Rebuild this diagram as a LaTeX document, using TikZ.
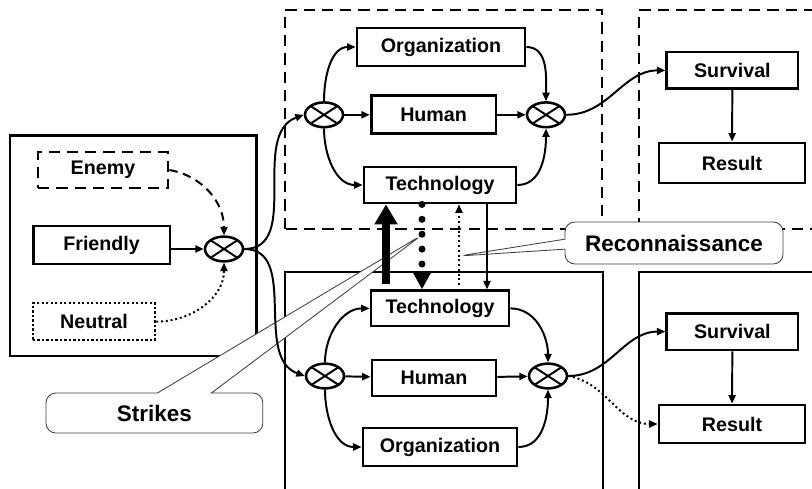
\documentclass[tikz,border=0pt]{standalone}
\usepackage{fontspec}
\setmainfont{Liberation Sans}
\usetikzlibrary{arrows.meta,shapes.geometric,shapes.callouts}

\tikzset{
  box/.style={draw,line width=2pt,fill=white,minimum height=0.92cm,inner sep=2pt,
    font=\bfseries\fontsize{14}{16}\selectfont},
  dashbox/.style={box,dash pattern=on 8pt off 5pt},
  dotbox/.style={box,line width=1.8pt,dash pattern=on 1.6pt off 1.6pt},
  mix/.style={ellipse,draw,line width=1.8pt,fill=white,minimum width=0.95cm,minimum height=0.62cm,inner sep=0pt,
    path picture={\draw[line width=1.4pt]
      (path picture bounding box.north west) -- (path picture bounding box.south east)
      (path picture bounding box.south west) -- (path picture bounding box.north east);}},
  conn/.style={line width=1.4pt,-{Triangle[length=6pt,width=5pt]}},
  area/.style={line width=2pt},
  callbox/.style={rectangle callout,draw=black!75,line width=0.6pt,fill=white,rounded corners=7pt,
    font=\bfseries\fontsize{16}{18}\selectfont}
}

\begin{document}
\begin{tikzpicture}
    % Own side (top) and opponent side (bottom), each with its survival and result.
    \clip (0,0) rectangle (20.3,12.2);
    \fill[white] (0,0) rectangle (20.3,12.2);

    \draw[area] (0.25,3.3) rectangle (6.42,8.82);
    \draw[area,dash pattern=on 8pt off 5pt] (7.125,6.475) rectangle (15.05,11.95);
    \draw[area,dash pattern=on 8pt off 5pt] (21,6.475) -- (15.975,6.475) -- (15.975,11.95) -- (21,11.95);
    \draw[area] (7.125,-1) rectangle (15.075,5.4);
    \draw[area] (21,5.4) -- (15.975,5.4) -- (15.975,-1);

    \coordinate (strikeTip) at (10.55,6.325);
    \coordinate (reconTip) at (11.475,5.8);
    \node[callbox,callout absolute pointer={(strikeTip)},callout pointer width=1.35cm,
      minimum width=5.42cm,minimum height=1cm] (strikes) at (3.86,1.875) {Strikes};
    \node[callbox,callout absolute pointer={(reconTip)},callout pointer width=0.25cm,
      minimum width=5.45cm,minimum height=1.05cm] (recon) at (16.85,6.125) {Reconnaissance};

    \node[dashbox,minimum width=3.25cm,minimum height=0.9cm] (enemy) at (2.575,7.95) {Enemy};
    \node[box,minimum width=3.42cm,minimum height=0.95cm] (friendly) at (2.54,6.075) {Friendly};
    \node[dotbox,minimum width=3.05cm] (neutral) at (2.35,4.16) {Neutral};
    \node[mix] (mixL) at (5.6,5.975) {};

    \node[mix] (mixTL) at (8.1,9.33) {};
    \node[mix] (mixTR) at (13.65,9.33) {};
    \node[box,minimum width=4.2cm,minimum height=0.95cm] (orgT) at (11.025,11.025) {Organization};
    \node[box,minimum width=3.12cm,minimum height=0.95cm] (humT) at (10.84,9.33) {Human};
    \node[box,minimum width=3.8cm,minimum height=0.9cm] (techT) at (11,7.575) {Technology};

    \node[box,minimum width=3.45cm,minimum height=0.88cm] (techB) at (11,4.49) {Technology};
    \node[box,minimum width=3.1cm,minimum height=0.9cm] (humB) at (10.85,2.75) {Human};
    \node[box,minimum width=3.85cm,minimum height=0.95cm] (orgB) at (11,1.025) {Organization};
    \node[mix] (mixBL) at (8.125,2.8) {};
    \node[mix] (mixBR) at (13.7,2.8) {};

    \node[box,minimum width=3.28cm] (survT) at (18.31,10.44) {Survival};
    \node[box,minimum width=3.65cm,minimum height=1cm] (resT) at (18.3,8.125) {Result};
    \node[box,minimum width=3.28cm] (survB) at (18.31,3.91) {Survival};
    \node[box,minimum width=3.65cm,minimum height=0.95cm] (resB) at (18.3,1.6) {Result};

    \draw[conn,dash pattern=on 6pt off 4pt] (enemy.east) to[out=-10,in=90] (mixL.north);
    \draw[conn] (friendly.east |- mixL) -- (mixL);
    \draw[conn,dotted] (neutral.east) to[out=0,in=-90] (mixL.south);
    \draw[conn] (mixL.east) to[out=0,in=200] (mixTL.west);
    \draw[conn] (mixL.east) to[out=0,in=160] (mixBL.west);

    \draw[conn] (mixTL.north) to[out=90,in=180] (orgT.west);
    \draw[conn] (mixTL) -- (humT);
    \draw[conn] (mixTL.south) to[out=-90,in=180] (techT.west);
    \draw[conn] (orgT.east) to[out=0,in=90] (mixTR.north);
    \draw[conn] (humT) -- (mixTR);
    \draw[conn] (techT.east) to[out=0,in=-90] (mixTR.south);
    \draw[conn] (mixTR.east) to[out=0,in=180] (survT.west);
    \draw[conn] (survT) -- (resT);

    \draw[conn] (mixBL.north) to[out=90,in=180] (techB.west);
    \draw[conn] (mixBL) -- (humB);
    \draw[conn] (mixBL.south) to[out=-90,in=180] (orgB.west);
    \draw[conn] (techB.east) to[out=0,in=90] (mixBR.north);
    \draw[conn] (humB) -- (mixBR);
    \draw[conn] (orgB.east) to[out=0,in=-90] (mixBR.south);
    \draw[conn] (mixBR.east) to[out=0,in=180] (survB.west);
    \draw[conn,dotted] (mixBR.east) to[out=-10,in=180] (resB.west);
    \draw[conn] (survB) -- (resB);

    \draw[line width=5pt,-{Triangle[width=0.55cm,length=0.5cm]},shorten <=4pt]
      ([xshift=-1.35cm]techB.north) -- ([xshift=-1.35cm]techT.south);
    \draw[line width=5pt,line cap=round,dash pattern=on 0pt off 10.6pt,-{Triangle[width=0.45cm,length=0.45cm]}]
      ([xshift=-0.45cm]techT.south) -- ([xshift=-0.45cm]techB.north);
    \draw[conn,dotted,shorten <=3pt] ([xshift=0.475cm]techB.north) -- ([xshift=0.475cm]techT.south);
    \draw[conn] ([xshift=1.175cm]techT.south) -- ([xshift=1.175cm]techB.north);
\end{tikzpicture}
\end{document}
